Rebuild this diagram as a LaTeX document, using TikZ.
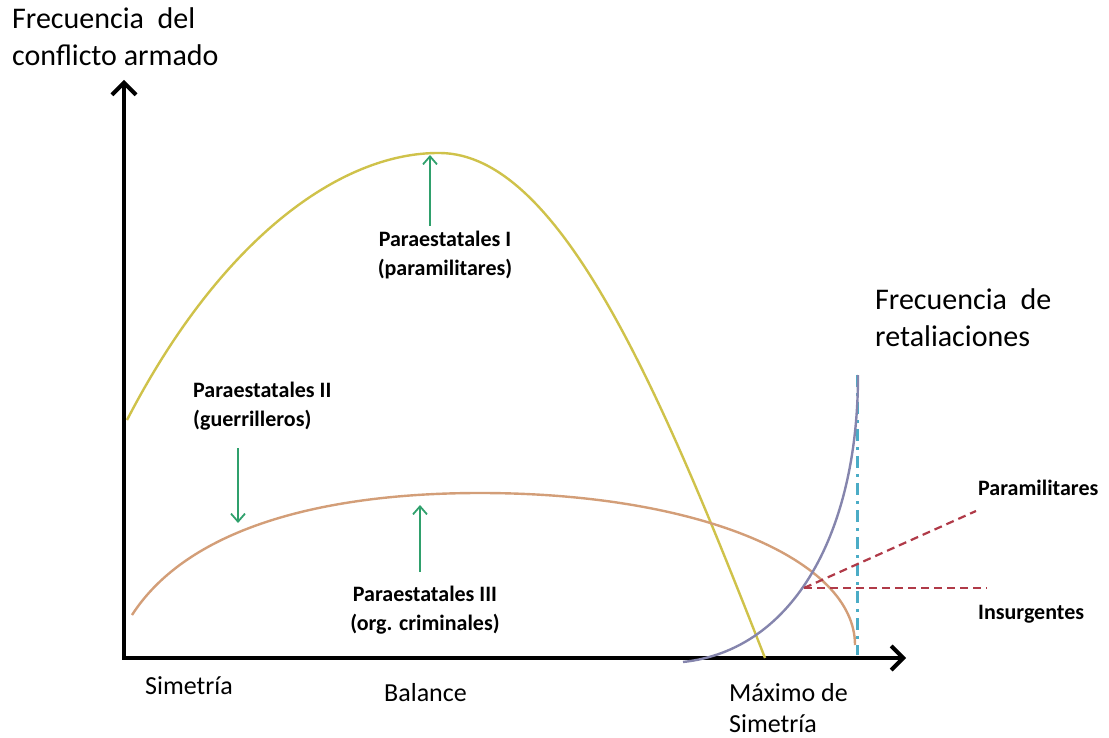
\documentclass[tikz,border=0pt]{standalone}
\usepackage{fontspec}
\setmainfont{Carlito}
\usetikzlibrary{arrows.meta}

\definecolor{curvaI}{HTML}{CFC24A}
\definecolor{curvaII}{HTML}{D39E78}
\definecolor{curvaRet}{HTML}{8585AD}
\definecolor{turquesa}{HTML}{4BACC6}
\definecolor{rojo}{HTML}{B03A48}
\definecolor{verde}{HTML}{2FA06C}

\begin{document}
\begin{tikzpicture}[x=1pt,y=-1pt,
  eje/.style={line width=4pt,-{Straight Barb[length=12pt,width=24pt]}},
  flecha/.style={verde,line width=1.8pt,-{Straight Barb[length=8pt,width=14pt]}},
  titulo/.style={font=\fontsize{30}{37}\selectfont,align=left,inner sep=0pt,anchor=west},
  etiqueta/.style={font=\bfseries\fontsize{22}{29}\selectfont,align=center,inner sep=0pt},
  marca/.style={font=\fontsize{26}{31}\selectfont,align=left,inner sep=0pt,anchor=west}]
  \useasboundingbox (0,0) rectangle (1109,738);

  % ejes
  \coordinate (origen) at (124,658);
  \coordinate (ytop) at (124,80);
  \coordinate (xfin) at (906,658);
  \draw[eje] (origen) -- (ytop);
  \draw[eje] (122,658) -- (xfin);

  % curvas
  \draw[curvaI,line width=2.4pt] (127,420) .. controls (220,240) and (340,152) .. (440,153)
    .. controls (560,154) and (660,390) .. (765,658);
  \draw[curvaII,line width=2.4pt] (132,615) .. controls (190,525) and (330,493) .. (480,493)
    .. controls (700,493) and (855,560) .. (855,645);
  \draw[turquesa,line width=3pt,dash pattern=on 12pt off 6pt on 3pt off 6pt] (857,375) -- (857,655);
  \draw[curvaRet,line width=2.4pt] (683,662) .. controls (795,650) and (858,530) .. (858,375);

  % retaliaciones
  \coordinate (retOrig) at (804,588);
  \coordinate (paraFin) at (976,511);
  \coordinate (insFin) at (987,588);
  \draw[rojo,line width=2.2pt,dash pattern=on 8pt off 5pt] (retOrig) -- (paraFin);
  \draw[rojo,line width=2.2pt,dash pattern=on 8pt off 5pt] (retOrig) -- (insFin);

  % textos
  \node[titulo] (freq) at (12,37) {Frecuencia\ \ del\\conflicto armado};
  \node[titulo] (ret) at (875,318) {Frecuencia\ \ de\\retaliaciones};
  \node[etiqueta] (pI) at (445,255) {Paraestatales I\\(paramilitares)};
  \node[etiqueta,align=left,anchor=west] (pII) at (193,406) {Paraestatales II\\(guerrilleros)};
  \node[etiqueta] (pIII) at (425,610) {Paraestatales III\\(org. criminales)};
  \node[etiqueta,anchor=west] (param) at (978,488) {Paramilitares};
  \node[etiqueta,anchor=west] (insur) at (978,614) {Insurgentes};
  \node[marca] (sim) at (145,686) {Simetría};
  \node[marca] (bal) at (384,693) {Balance};
  \node[marca] (max) at (729,708) {Máximo de\\Simetría};

  % flechas
  \draw[flecha] (430,226) -- (430,155);
  \draw[flecha] (238,448) -- (238,523);
  \draw[flecha] (420,572) -- (420,505);
\end{tikzpicture}
\end{document}
